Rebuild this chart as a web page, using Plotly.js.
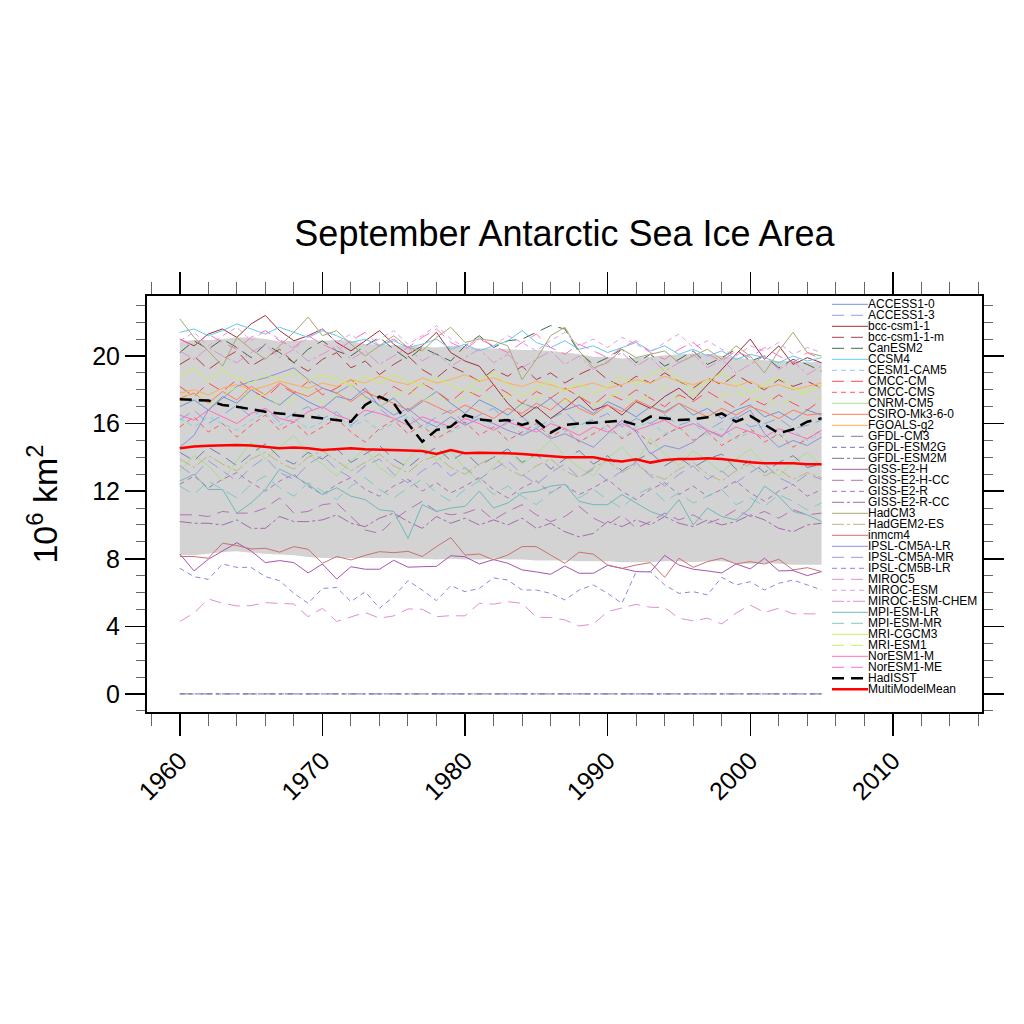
<!DOCTYPE html>
<html>
<head>
<meta charset="utf-8">
<script src="https://cdn.plot.ly/plotly-3.0.1.min.js"></script>
<style>html,body{margin:0;padding:0;background:#fff;}#chart{width:1024px;height:1024px;}</style>
</head>
<body>
<div id="chart"></div>
<script>
const years = [1960,1961,1962,1963,1964,1965,1966,1967,1968,1969,1970,1971,1972,1973,1974,1975,1976,1977,1978,1979,1980,1981,1982,1983,1984,1985,1986,1987,1988,1989,1990,1991,1992,1993,1994,1995,1996,1997,1998,1999,2000,2001,2002,2003,2004,2005];

const bandUpper = [20.85,20.95,20.95,21.0,21.1,21.1,21.0,20.85,20.9,20.95,20.9,20.95,20.9,20.7,20.7,20.65,20.6,20.55,20.5,20.6,20.55,20.45,20.45,20.4,20.35,20.35,20.3,20.2,20.1,19.95,19.95,19.85,19.9,19.95,20.05,20.1,20.15,20.1,20.0,19.9,19.8,19.75,19.7,19.7,19.65,19.65];
const bandLower = [8.2,8.2,8.3,8.4,8.45,8.35,8.3,8.25,8.2,8.1,8.05,8.05,8.05,8.05,8.05,8.05,8.0,8.0,7.95,8.0,7.95,7.95,8.0,7.95,7.95,7.9,7.9,7.9,7.85,7.85,7.85,7.8,7.8,7.8,7.85,7.85,7.8,7.85,7.85,7.75,7.7,7.75,7.7,7.65,7.65,7.65];

const ACCESS1_0 = [17.0,17.4,16.8,17.6,17.2,18.0,17.5,17.1,17.8,17.3,16.9,17.6,17.4,18.1,17.0,17.5,16.7,17.3,17.9,17.2,16.6,17.4,17.0,16.5,17.2,16.9,17.5,16.8,17.1,16.6,17.3,16.9,16.4,17.0,16.7,17.2,16.5,16.9,16.3,16.8,17.1,16.4,16.7,16.2,16.8,16.5];
const ACCESS1_3 = [16.2,16.8,16.0,16.5,17.1,16.4,16.9,16.1,16.6,17.0,16.3,16.7,15.9,16.5,16.9,16.2,16.6,15.8,16.4,16.8,16.0,16.5,16.9,16.1,16.4,15.7,16.3,16.7,15.9,16.2,16.6,15.8,16.3,16.0,16.5,15.9,16.2,15.6,16.1,16.4,15.8,16.0,16.3,15.7,15.9,16.2];
const bcc_csm1_1 = [21.0,20.6,21.3,21.6,21.1,21.9,22.4,21.5,20.9,21.2,21.6,20.8,20.3,20.9,21.5,20.7,20.1,20.6,21.4,20.2,19.7,19.4,18.3,17.2,16.4,17.0,16.3,16.9,17.6,16.8,17.1,16.5,17.3,16.9,17.6,18.1,17.4,18.3,19.2,20.1,21.0,19.8,20.6,19.5,19.9,19.6];
const bcc_csm1_1_m = [19.5,20.0,19.2,19.8,20.3,19.4,19.9,20.4,19.6,19.1,19.8,20.2,19.3,19.7,18.9,19.5,20.0,19.2,18.7,19.4,19.0,18.5,19.2,18.8,19.4,18.6,19.0,18.4,18.9,19.3,18.6,18.2,18.8,18.4,19.0,18.5,18.1,18.7,18.3,18.9,18.4,18.0,18.6,18.2,18.5,18.1];
const CanESM2 = [20.2,20.9,20.4,21.0,20.5,19.9,20.7,20.2,19.6,20.4,20.9,20.3,20.0,20.6,21.1,20.4,19.8,20.5,20.1,19.7,20.6,21.2,20.5,20.9,21.0,21.4,21.8,21.6,20.2,19.5,19.9,20.4,19.6,20.1,19.4,19.8,20.3,19.5,19.9,20.4,19.7,20.0,19.3,19.8,19.5,19.1];
const CCSM4 = [21.4,21.6,21.2,21.5,21.9,21.6,21.3,21.7,21.4,21.1,21.5,21.2,20.8,21.0,20.6,20.9,20.5,20.7,21.0,20.4,20.7,20.3,20.6,20.9,21.5,20.8,20.5,20.9,20.4,20.6,20.2,20.5,20.8,20.3,20.6,20.1,20.4,20.0,20.3,19.8,20.1,19.9,19.6,20.0,19.7,19.9];
const CESM1_CAM5 = [16.3,15.8,16.4,16.0,15.6,16.2,16.6,15.9,16.3,15.7,16.1,16.5,15.8,16.2,15.6,16.0,16.4,15.7,16.1,15.5,15.9,16.3,15.6,16.0,15.4,15.8,16.2,15.5,15.9,16.3,15.6,15.2,15.8,16.1,15.4,15.7,16.0,15.3,15.7,15.1,15.5,15.9,15.2,15.6,15.0,15.4];
const CMCC_CM = [18.2,17.6,18.4,17.9,18.6,18.0,17.5,18.3,17.8,18.5,17.7,18.1,18.6,17.9,17.4,18.2,17.7,18.4,17.9,17.3,18.0,17.6,18.3,17.8,17.2,17.9,17.5,18.1,17.6,17.1,17.8,17.4,18.0,17.5,17.0,17.7,17.3,17.9,17.4,16.9,17.5,17.1,17.7,17.2,16.8,17.4];
const CMCC_CMS = [15.8,16.4,15.5,16.0,15.2,15.9,16.5,15.6,16.1,15.3,15.8,16.3,15.5,14.9,15.7,16.2,15.4,15.9,15.1,15.6,16.1,15.3,15.8,15.0,15.5,16.0,15.2,15.7,14.9,15.4,15.9,15.1,15.6,14.8,15.3,15.8,15.0,15.5,14.7,15.2,15.7,14.9,15.4,14.6,15.1,15.6];
const CNRM_CM5 = [13.2,14.1,13.5,12.6,13.8,14.9,13.9,14.6,15.3,14.2,13.6,12.9,13.8,14.5,13.4,12.8,13.9,14.7,13.8,14.4,13.3,12.6,13.5,14.3,13.6,14.2,15.0,14.1,13.4,12.9,14.0,14.6,13.7,15.1,14.2,13.5,14.4,13.8,13.1,13.9,14.5,13.6,12.9,13.7,14.3,13.5];
const CSIRO_Mk3_6_0 = [17.5,17.8,17.2,17.9,17.4,18.2,17.7,18.4,17.9,17.6,18.1,17.8,17.3,17.9,17.5,17.2,16.8,17.4,17.0,16.6,17.1,16.7,16.3,16.9,16.6,17.2,16.8,17.5,16.9,16.5,17.1,16.7,17.4,17.0,16.6,17.2,16.8,16.4,16.9,16.5,17.0,16.7,16.3,16.8,16.5,16.6];
const FGOALS_g2 = [17.8,18.0,17.7,18.1,18.3,18.0,18.2,18.5,18.3,18.1,18.4,18.2,18.6,18.4,18.8,18.5,18.3,18.7,18.4,18.6,18.9,18.5,18.7,18.4,18.2,18.5,18.3,18.0,18.2,18.4,18.1,18.3,18.6,18.4,18.8,18.5,18.3,18.6,18.4,18.2,18.5,18.1,18.3,18.0,18.2,18.4];
const GFDL_CM3 = [14.3,13.8,14.6,14.1,13.5,14.2,14.8,14.0,13.6,14.3,13.9,14.5,13.7,14.2,14.7,13.9,13.4,14.1,14.6,13.8,14.3,13.5,14.0,14.5,13.7,14.2,13.3,13.9,14.4,13.6,14.1,13.2,13.8,14.3,13.5,14.0,13.4,13.9,14.2,13.3,13.8,13.1,13.7,14.1,13.4,13.6];
const GFDL_ESM2G = [0,0,0,0,0,0,0,0,0,0,0,0,0,0,0,0,0,0,0,0,0,0,0,0,0,0,0,0,0,0,0,0,0,0,0,0,0,0,0,0,0,0,0,0,0,0];
const GFDL_ESM2M = [0,0,0,0,0,0,0,0,0,0,0,0,0,0,0,0,0,0,0,0,0,0,0,0,0,0,0,0,0,0,0,0,0,0,0,0,0,0,0,0,0,0,0,0,0,0];
const GISS_E2_H = [8.28,7.28,7.97,8.46,8.95,8.46,7.77,7.89,7.77,7.16,7.69,6.8,7.53,7.38,7.38,7.91,7.5,7.53,7.55,8.18,8.12,7.69,7.95,7.73,7.34,7.22,7.08,7.57,7.14,7.14,7.61,7.43,7.24,7.22,8.2,7.63,7.38,7.28,7.16,7.69,7.4,8.03,7.28,7.3,7.0,7.24];
const GISS_E2_H_CC = [10.6,10.6,10.5,10.8,10.7,10.7,11.0,11.6,10.7,10.8,11.2,11.3,10.5,9.7,9.5,10.3,10.9,11.4,10.8,10.6,10.7,11.0,10.3,10.8,11.2,10.6,10.2,10.5,11.1,10.4,10.0,10.6,9.8,10.2,10.7,10.3,10.6,10.1,10.4,10.9,10.5,10.8,10.4,10.9,10.6,10.7];
const GISS_E2_R = [12.4,12.9,12.2,12.7,13.1,12.5,12.0,12.6,13.0,12.3,11.8,12.4,12.8,12.1,11.7,12.3,12.7,12.0,12.5,11.9,12.3,12.8,12.1,11.6,12.2,12.6,11.9,12.4,11.8,12.2,12.7,12.0,11.5,12.1,12.5,11.8,12.3,11.7,12.1,12.6,11.9,11.4,12.0,12.4,11.7,12.1];
const GISS_E2_R_CC = [10.2,10.1,10.1,10.0,10.3,9.8,9.8,10.5,10.2,10.2,10.3,10.6,10.1,9.9,10.4,10.7,10.2,9.8,10.5,10.1,10.4,10.0,10.3,10.0,10.4,9.8,10.1,9.6,9.3,9.5,10.2,9.9,10.3,10.0,10.5,10.1,9.9,10.3,10.0,10.2,10.6,10.3,9.8,9.6,10.0,10.1];
const HadCM3 = [22.2,21.1,20.3,19.4,21.1,20.4,19.8,20.6,21.4,22.3,21.2,21.5,20.7,20.0,20.6,21.2,20.5,20.3,21.1,21.7,20.8,21.0,20.9,20.6,18.6,19.8,21.2,21.7,20.3,19.3,19.6,20.4,19.9,20.1,20.3,19.6,20.0,20.4,19.8,20.6,20.0,19.0,20.3,21.4,20.2,20.0];
const HadGEM2_ES = [13.9,13.4,14.1,13.6,13.2,13.9,14.3,13.7,13.3,14.0,14.4,13.8,13.2,13.7,14.2,13.5,13.1,13.8,14.1,13.4,13.0,13.6,14.0,13.3,12.9,13.5,13.9,13.2,12.8,13.4,13.8,13.1,13.6,13.0,12.7,13.3,13.7,13.0,12.6,13.2,13.6,12.9,13.3,12.7,13.1,12.8];
const inmcm4 = [8.13,8.13,8.03,8.92,8.78,8.58,8.62,8.39,8.72,8.56,7.73,8.13,7.93,8.2,8.42,8.36,8.44,8.13,8.72,9.25,8.22,8.28,7.93,8.22,8.72,8.72,8.22,7.73,8.39,8.27,7.63,7.43,7.63,7.77,6.9,8.03,7.49,7.83,8.03,7.69,7.83,7.69,7.97,7.34,7.47,7.24];
const IPSL_CM5A_LR = [14.6,15.3,16.8,17.5,18.2,18.5,18.7,19.0,19.3,18.6,18.1,17.8,18.3,17.6,17.1,16.5,16.9,16.2,15.8,16.4,15.9,16.3,16.0,15.6,15.3,15.7,15.1,15.4,15.0,14.6,15.4,16.2,15.5,14.2,14.7,14.5,14.9,15.6,15.2,16.3,16.8,15.4,14.6,15.0,14.7,15.2];
const IPSL_CM5A_MR = [13.5,12.9,13.8,13.2,12.6,13.4,14.0,13.1,12.7,13.6,14.1,13.3,12.8,13.5,13.9,13.0,12.5,13.2,13.7,12.9,13.4,12.7,13.3,13.8,13.0,12.4,13.1,13.6,12.8,13.3,12.6,13.2,13.7,12.9,12.3,13.0,13.5,12.7,13.2,12.5,13.1,13.6,12.8,12.4,13.0,12.7];
const IPSL_CM5B_LR = [7.44,6.94,6.78,7.69,7.49,7.49,6.94,6.7,5.95,5.36,6.24,6.3,5.46,6.05,5.07,5.76,6.7,6.15,5.52,6.41,6.05,6.24,6.87,6.74,6.15,6.15,5.95,5.56,6.15,6.45,5.95,5.36,7.24,7.24,6.45,5.95,6.05,5.86,6.9,6.45,6.64,6.15,6.55,6.74,6.45,6.15];
const MIROC5 = [4.29,4.78,5.62,5.36,5.21,5.23,5.4,5.36,5.32,4.57,5.07,4.29,4.54,4.82,4.48,4.62,5.03,5.01,4.57,4.63,4.62,5.36,5.31,5.46,5.36,4.54,4.52,4.38,4.02,4.14,4.87,5.07,5.3,5.13,5.11,4.48,4.32,4.48,4.14,4.78,5.26,4.82,5.07,4.74,4.74,4.74];
const MIROC_ESM = [20.9,21.4,20.6,21.2,21.7,20.9,21.5,21.0,20.4,21.1,21.6,20.8,21.3,20.6,21.0,21.5,20.7,21.2,21.8,21.0,20.5,21.1,20.6,21.2,20.8,20.3,20.9,21.4,20.6,21.0,20.5,21.1,20.7,20.2,20.8,21.3,20.5,20.9,20.4,20.0,20.6,20.3,20.8,20.1,20.5,20.2];
const MIROC_ESM_CHEM = [20.3,19.8,20.5,20.0,19.6,20.2,20.7,19.9,20.4,19.7,20.1,20.6,19.8,20.3,19.5,20.0,20.5,19.7,20.2,19.4,19.9,20.4,19.6,20.1,19.3,19.8,20.3,19.5,20.0,19.2,19.7,20.2,19.4,19.9,19.1,19.6,20.1,19.3,19.8,19.0,19.5,20.0,19.2,19.7,18.9,19.4];
const MPI_ESM_LR = [12.6,13.0,12.1,12.1,10.7,11.3,12.1,13.3,12.9,12.4,11.8,12.2,11.7,11.5,10.9,10.8,9.2,11.2,10.8,11.0,11.1,12.0,11.0,11.3,11.9,12.0,12.3,12.4,11.4,11.2,11.2,11.8,11.3,10.8,10.5,11.5,10.0,11.0,10.5,10.3,11.0,12.3,11.7,10.8,10.6,10.2];
const MPI_ESM_MR = [12.3,11.8,12.6,12.1,11.6,12.4,12.9,12.2,11.7,12.5,12.0,11.5,12.3,12.8,12.1,11.6,12.2,12.7,11.9,11.4,12.1,12.6,11.8,12.3,11.7,11.2,11.9,12.4,11.6,12.1,11.5,11.0,11.8,12.2,11.4,11.9,11.3,11.7,12.1,11.2,11.6,11.1,11.8,11.4,10.9,11.3];
const MRI_CGCM3 = [18.8,19.3,18.5,19.2,18.7,18.4,18.9,18.6,19.1,18.5,18.9,18.6,18.3,18.8,18.4,18.9,18.5,18.2,18.7,18.3,17.9,18.6,19.0,18.3,17.6,18.1,18.5,17.9,18.4,17.8,18.2,18.8,18.3,18.9,19.3,18.6,18.0,18.5,19.0,18.4,17.8,18.3,18.7,18.1,17.8,18.3];
const MRI_ESM1 = [17.3,17.9,17.1,17.6,18.2,17.4,17.8,17.0,17.5,18.0,17.2,17.7,18.3,17.5,17.0,17.6,18.1,17.3,17.8,17.1,17.6,18.0,17.2,17.7,17.0,17.5,18.1,17.3,17.8,17.1,17.5,17.9,17.2,17.7,18.2,17.4,17.8,17.1,17.6,18.0,17.3,17.7,17.0,17.5,17.9,17.4];
const NorESM1_M = [16.5,16.2,16.8,16.4,16.0,16.6,16.9,16.3,16.1,16.7,17.0,16.5,16.2,16.8,16.6,16.3,15.9,16.4,16.1,15.8,16.3,16.0,15.6,16.1,15.8,15.5,16.0,15.7,15.3,15.8,15.5,16.0,15.6,15.9,16.2,15.7,16.0,15.6,15.3,15.8,15.5,15.2,15.7,15.4,15.1,15.6];
const NorESM1_ME = [21.0,20.6,21.3,20.8,20.4,21.1,21.5,20.9,20.5,21.2,20.7,20.3,20.9,21.4,20.6,21.0,20.5,21.1,21.6,20.8,20.4,21.0,20.6,20.2,20.8,21.3,20.5,20.1,20.7,20.3,19.9,20.5,20.9,20.2,19.8,20.4,20.8,20.1,19.7,20.3,19.9,20.5,20.0,19.6,20.2,19.8];

const HadISST = [17.44,17.4,17.36,17.1,17.0,16.85,16.7,16.6,16.5,16.4,16.3,16.2,16.11,17.1,17.6,17.2,16.0,14.93,15.62,15.82,16.5,16.25,16.15,16.21,15.92,16.17,15.46,15.92,16.01,16.05,16.11,16.17,15.92,16.41,16.31,16.21,16.25,16.37,16.6,16.11,16.45,15.92,15.43,15.66,16.11,16.31];
const MultiModelMean = [14.54,14.64,14.68,14.7,14.73,14.7,14.64,14.54,14.58,14.54,14.44,14.5,14.54,14.48,14.44,14.44,14.4,14.38,14.2,14.44,14.24,14.28,14.28,14.24,14.2,14.12,14.08,14.0,14.0,14.0,13.85,13.75,13.89,13.69,13.85,13.91,13.91,13.95,13.91,13.79,13.71,13.65,13.65,13.65,13.59,13.59];

const modelNames = ['ACCESS1-0','ACCESS1-3','bcc-csm1-1','bcc-csm1-1-m','CanESM2','CCSM4','CESM1-CAM5','CMCC-CM','CMCC-CMS','CNRM-CM5','CSIRO-Mk3-6-0','FGOALS-g2','GFDL-CM3','GFDL-ESM2G','GFDL-ESM2M','GISS-E2-H','GISS-E2-H-CC','GISS-E2-R','GISS-E2-R-CC','HadCM3','HadGEM2-ES','inmcm4','IPSL-CM5A-LR','IPSL-CM5A-MR','IPSL-CM5B-LR','MIROC5','MIROC-ESM','MIROC-ESM-CHEM','MPI-ESM-LR','MPI-ESM-MR','MRI-CGCM3','MRI-ESM1','NorESM1-M','NorESM1-ME'];
const modelValues = [ACCESS1_0,ACCESS1_3,bcc_csm1_1,bcc_csm1_1_m,CanESM2,CCSM4,CESM1_CAM5,CMCC_CM,CMCC_CMS,CNRM_CM5,CSIRO_Mk3_6_0,FGOALS_g2,GFDL_CM3,GFDL_ESM2G,GFDL_ESM2M,GISS_E2_H,GISS_E2_H_CC,GISS_E2_R,GISS_E2_R_CC,HadCM3,HadGEM2_ES,inmcm4,IPSL_CM5A_LR,IPSL_CM5A_MR,IPSL_CM5B_LR,MIROC5,MIROC_ESM,MIROC_ESM_CHEM,MPI_ESM_LR,MPI_ESM_MR,MRI_CGCM3,MRI_ESM1,NorESM1_M,NorESM1_ME];

const modelColors = ['#6f95d9','#80a8e2','#a0303c','#b23a4a','#3f6b4a','#66c8ee','#7cd0e8','#ff4c4c','#ff5a5a','#a8e08a','#ff7a5a','#ffb050','#7480a8','#6a78b0','#6a7498','#a855b0','#b870b8','#b070b8','#a868b0','#a8a870','#b8b880','#cc7070','#9090d8','#9a9ae0','#8888e0','#e090d0','#e0a0e0','#e090d8','#70b8b8','#80c8c8','#c8f060','#c8f060','#ff6ec0','#ff70c8'];
const modelStyles = ['solid','dash','solid','dash','dash','solid','dot','dash','dot','solid','solid','solid','dash','dot','dashdot','solid','dash','dot','dashdot','solid','dashdot','solid','solid','dash','dot','dash','dot','dashdot','solid','dash','solid','dash','solid','dash'];

const dashMap = {solid:'solid', dash:'12px,7px', dot:'5px,4px', dashdot:'12px,3px,3px,3px'};
const FONT = 'Liberation Sans, Arial, Helvetica, sans-serif';

const traces = [];
traces.push({x: years, y: bandLower, mode:'lines', line:{width:0, color:'#d3d3d3'}, hoverinfo:'skip', showlegend:false});
traces.push({x: years, y: bandUpper, mode:'lines', fill:'tonexty', fillcolor:'#d3d3d3', line:{width:0, color:'#d3d3d3'}, hoverinfo:'skip', showlegend:false});
for (let i = 0; i < modelNames.length; i++) {
  traces.push({x: years, y: modelValues[i], name: modelNames[i], mode:'lines',
    line:{color: modelColors[i], width: 1, dash: dashMap[modelStyles[i]]}, showlegend:false});
}
traces.push({x: years, y: HadISST, name:'HadISST', mode:'lines', line:{color:'#000000', width:2.5, dash:'12px,7px'}, showlegend:false});
traces.push({x: years, y: MultiModelMean, name:'MultiModelMean', mode:'lines', line:{color:'#ff0000', width:2.5}, showlegend:false});

// compact legend built in layout (shapes + annotations)
const legNames = modelNames.concat(['HadISST','MultiModelMean']);
const legColors = modelColors.concat(['#000000','#ff0000']);
const legDash = modelStyles.map(s => dashMap[s]).concat(['12px,7px','solid']);
const legWidth = modelNames.map(() => 1).concat([2.5, 2.5]);
const shapes = [];
const annotations = [];
const plotTop = 296, plotBottom = 712, plotLeft = 147, plotRight = 982;
const pw = plotRight - plotLeft, ph = plotBottom - plotTop;
for (let i = 0; i < legNames.length; i++) {
  const py = 304.3 + i * 11.0;
  const yp = (plotBottom - py) / ph;
  shapes.push({type:'line', xref:'paper', yref:'paper', x0:(832 - plotLeft)/pw, x1:(868 - plotLeft)/pw, y0:yp, y1:yp,
    line:{color: legColors[i], width: legWidth[i], dash: legDash[i]}});
  annotations.push({xref:'paper', yref:'paper', x:(867 - plotLeft)/pw, y:yp, xanchor:'left', yanchor:'middle',
    text: legNames[i], showarrow:false, borderpad:0, font:{family:FONT, size:12, color:'#000'}});
}

const layout = {
  width:1024, height:1024,
  paper_bgcolor:'#ffffff', plot_bgcolor:'#ffffff',
  font:{family:FONT, color:'#000'},
  margin:{l:plotLeft, r:1024-plotRight, t:plotTop, b:1024-plotBottom, pad:0},
  showlegend:false,
  title:{text:'September Antarctic Sea Ice Area', font:{family:FONT, size:36, color:'#000'},
    x:0.5, xref:'paper', xanchor:'center', y:1-233/1024, yref:'container', yanchor:'middle'},
  xaxis:{range:[1957.7, 2016.25], tickmode:'linear', tick0:1960, dtick:10,
    ticks:'outside', ticklen:22, tickwidth:1.5, tickcolor:'#000',
    minor:{tickmode:'linear', tick0:1960, dtick:2, ticks:'outside', ticklen:12, tickwidth:1, tickcolor:'#666'},
    showline:true, linewidth:2, linecolor:'#000', mirror:'allticks',
    tickangle:-45, tickfont:{family:FONT, size:25, color:'#000'},
    showgrid:false, zeroline:false},
  yaxis:{range:[-1.07, 23.55], tickmode:'linear', tick0:0, dtick:4,
    ticks:'outside', ticklen:20, tickwidth:1.5, tickcolor:'#000',
    minor:{tickmode:'linear', tick0:0, dtick:1, ticks:'outside', ticklen:9, tickwidth:1, tickcolor:'#666'},
    showline:true, linewidth:2, linecolor:'#000', mirror:'allticks',
    tickfont:{family:FONT, size:25, color:'#000'},
    title:{text:'10<sup>6</sup> km<sup>2</sup>', font:{family:FONT, size:34, color:'#000'}, standoff:24},
    showgrid:false, zeroline:false},
  shapes: shapes,
  annotations: annotations
};

Plotly.newPlot('chart', traces, layout, {staticPlot:true, displayModeBar:false});
</script>
</body>
</html>
